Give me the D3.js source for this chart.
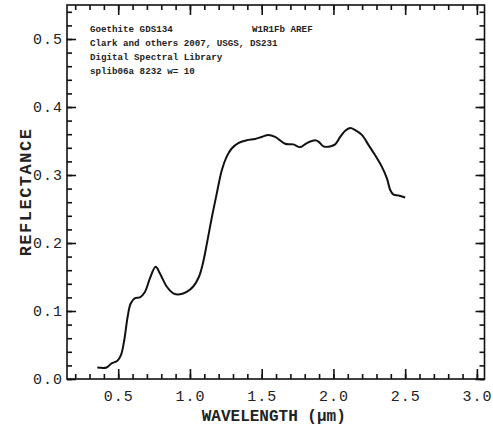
<!DOCTYPE html>
<html><head><meta charset="utf-8">
<script src="https://cdn.jsdelivr.net/npm/d3@7"></script>
<style>
html,body{margin:0;padding:0;background:#fff;}
svg{display:block;}
</style></head>
<body>
<script>
// Data
const wavelength = [0.354,0.419,0.454,0.493,0.519,0.542,0.566,0.587,0.617,0.651,0.686,0.721,0.761,0.791,0.838,0.884,0.931,0.977,1.023,1.062,1.090,1.117,1.151,1.187,1.222,1.256,1.291,1.337,1.396,1.454,1.500,1.547,1.594,1.663,1.721,1.768,1.815,1.873,1.896,1.931,1.977,2.012,2.047,2.082,2.117,2.152,2.198,2.245,2.291,2.338,2.373,2.396,2.419,2.454,2.500];
const reflectance = [0.017,0.017,0.023,0.0265,0.035,0.057,0.092,0.111,0.119,0.120,0.128,0.148,0.165,0.155,0.136,0.126,0.1245,0.128,0.136,0.150,0.170,0.198,0.236,0.273,0.307,0.327,0.339,0.347,0.351,0.353,0.356,0.359,0.356,0.346,0.345,0.341,0.347,0.351,0.349,0.342,0.342,0.345,0.356,0.365,0.369,0.366,0.359,0.344,0.329,0.312,0.295,0.278,0.271,0.270,0.267];
const xMajorTicks = [0.5,1.0,1.5,2.0,2.5,3.0];
const yMajorTicks = [0.0,0.1,0.2,0.3,0.4,0.5];
const xMinorTicks = d3.range(2,31).map(d=>d/10);
const yMinorTicks = d3.range(0,28).map(d=>d/50);
const annotations = ["Goethite GDS134","Clark and others 2007, USGS, DS231","Digital Spectral Library","splib06a 8232 w= 10"];
const annotationRight = "W1R1Fb AREF";

const W=493,H=432;
const L=67,R=484.5,T=5,B=379;
const mono = "'Courier New','Liberation Mono',monospace";
const svg = d3.select("body").append("svg").attr("width",W).attr("height",H);

const x = d3.scaleLinear().domain([0.143,3.053]).range([L,R]);
const y = d3.scaleLinear().domain([0,0.55]).range([B,T]);

function style(g){
  g.select(".domain").remove();
  g.selectAll("line").attr("stroke","#111").attr("stroke-width",1.6);
}
// minor ticks
svg.append("g").attr("transform",`translate(0,${B})`).call(d3.axisBottom(x).tickValues(xMinorTicks).tickSize(-5).tickFormat("")).call(style);
svg.append("g").attr("transform",`translate(0,${T})`).call(d3.axisTop(x).tickValues(xMinorTicks).tickSize(-5).tickFormat("")).call(style);
svg.append("g").attr("transform",`translate(${L},0)`).call(d3.axisLeft(y).tickValues(yMinorTicks).tickSize(-5).tickFormat("")).call(style);
svg.append("g").attr("transform",`translate(${R},0)`).call(d3.axisRight(y).tickValues(yMinorTicks).tickSize(-5).tickFormat("")).call(style);
// major ticks
const xb = svg.append("g").attr("transform",`translate(0,${B})`).call(d3.axisBottom(x).tickValues(xMajorTicks).tickSize(-10).tickPadding(11).tickFormat(d3.format(".1f"))).call(style);
svg.append("g").attr("transform",`translate(0,${T})`).call(d3.axisTop(x).tickValues(xMajorTicks).tickSize(-10).tickFormat("")).call(style);
const yl = svg.append("g").attr("transform",`translate(${L},0)`).call(d3.axisLeft(y).tickValues(yMajorTicks).tickSize(-9).tickPadding(4).tickFormat(d3.format(".1f"))).call(style);
svg.append("g").attr("transform",`translate(${R},0)`).call(d3.axisRight(y).tickValues(yMajorTicks).tickSize(-9).tickFormat("")).call(style);
[xb,yl].forEach(g=>g.selectAll("text").attr("font-family",mono).attr("font-size",15).attr("fill","#222").style("letter-spacing","1px"));

// frame
svg.append("rect").attr("x",L).attr("y",T).attr("width",R-L).attr("height",B-T)
  .attr("fill","none").attr("stroke","#111").attr("stroke-width",1.6);

// curve
const pts = wavelength.map((w,i)=>[w,reflectance[i]]);
svg.append("path").datum(pts)
  .attr("d",d3.line().x(d=>x(d[0])).y(d=>y(d[1])).curve(d3.curveCatmullRom.alpha(0.5)))
  .attr("fill","none").attr("stroke","#111").attr("stroke-width",2);

// annotations
annotations.forEach((t,i)=>{
  svg.append("text").attr("x",90).attr("y",32.3+i*13.9).text(t)
    .attr("font-family",mono).attr("font-size",9.2).attr("font-weight","bold").attr("fill","#222");
});
svg.append("text").attr("x",252).attr("y",32.3).text(annotationRight)
  .attr("font-family",mono).attr("font-size",9.2).attr("font-weight","bold").attr("fill","#222");

// axis titles
svg.append("text").attr("x",(L+R)/2-2).attr("y",421).attr("text-anchor","middle")
  .attr("font-family",mono).attr("font-size",16).attr("font-weight","bold").attr("fill","#222")
  .text("WAVELENGTH (\u00B5m)");
svg.append("text").attr("transform",`translate(31,${(T+B)/2}) rotate(-90)`).attr("text-anchor","middle")
  .attr("font-family",mono).attr("font-size",17).attr("font-weight","bold").attr("fill","#222")
  .style("letter-spacing","1.5px")
  .text("REFLECTANCE");
</script>
</body></html>
